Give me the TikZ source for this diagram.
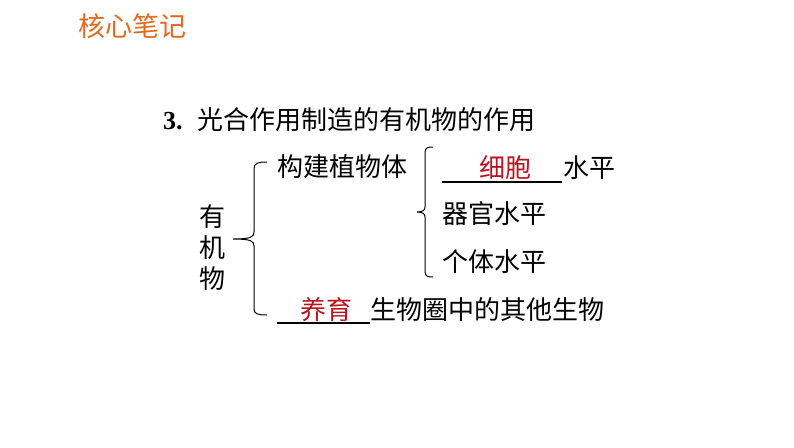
\documentclass[tikz,border=0pt]{standalone}
\usepackage{fontspec}
\setmainfont{Liberation Serif}
\newfontfamily\cjk{Noto Sans CJK SC}
\definecolor{hdrorange}{RGB}{226,106,32}
\definecolor{ansred}{RGB}{185,20,30}
\begin{document}
\begin{tikzpicture}[x=1pt,y=-1pt,
  txt/.style={inner sep=0pt,outer sep=0pt,anchor=west,font=\fontsize{26}{31}\selectfont\cjk},
  ans/.style={inner sep=0pt,outer sep=0pt,font=\fontsize{26}{31}\selectfont\cjk,text=ansred},
  bracepath/.style={line width=1pt,black},
  blank/.style={line width=1.2pt,black}]
\useasboundingbox[fill=white] (0,0) rectangle (794,447);
% header
\node[txt,text=hdrorange,font=\fontsize{27}{30}\selectfont\cjk] (hdr) at (78,26) {核心笔记};
% title
\node[txt,font=\fontsize{26}{30}\selectfont] (title) at (163,120) {\textbf{3.}\hspace{15pt}{\cjk 光合作用制造的有机物的作用}};
% root
\node[inner sep=0pt,align=center,font=\fontsize{26}{31}\selectfont\cjk] (org) at (212,248) {有\\机\\物};
% first level
\node[txt] (build) at (277,167) {构建植物体};
\coordinate (b1blankL) at (277,323);
\coordinate (b1blankR) at (370,323);
\node[ans] (yangyu) at (326,310) {养育};
\node[txt] (others) at (370,310) {生物圈中的其他生物};
% second level
\coordinate (c1blankL) at (442,182);
\coordinate (c1blankR) at (562,182);
\node[ans] (xibao) at (505,168) {细胞};
\node[txt] (level1) at (563,168) {水平};
\node[txt] (level2) at (442,214) {器官水平};
\node[txt] (level3) at (442,262) {个体水平};
% blanks
\draw[blank] (b1blankL) -- (b1blankR);
\draw[blank] (c1blankL) -- (c1blankR);
% big brace
\coordinate (bA) at (267,162);
\coordinate (bTip) at (233,239);
\coordinate (bB) at (267,315);
\draw[bracepath] (bA) .. controls (258,162) and (254,163) .. (254,169) -- (254,232)
  .. controls (254,237) and (251,239) .. (bTip)
  .. controls (251,239) and (254,241) .. (254,246) -- (254,309)
  .. controls (254,314) and (258,315) .. (bB);
% second brace
\coordinate (cA) at (433,147);
\coordinate (cTip) at (417,212);
\coordinate (cB) at (433,277);
\draw[bracepath] (cA) .. controls (427,147) and (425,148) .. (425,153) -- (425,207)
  .. controls (425,210) and (423,212) .. (cTip)
  .. controls (423,212) and (425,214) .. (425,217) -- (425,271)
  .. controls (425,276) and (427,277) .. (cB);
\end{tikzpicture}
\end{document}
